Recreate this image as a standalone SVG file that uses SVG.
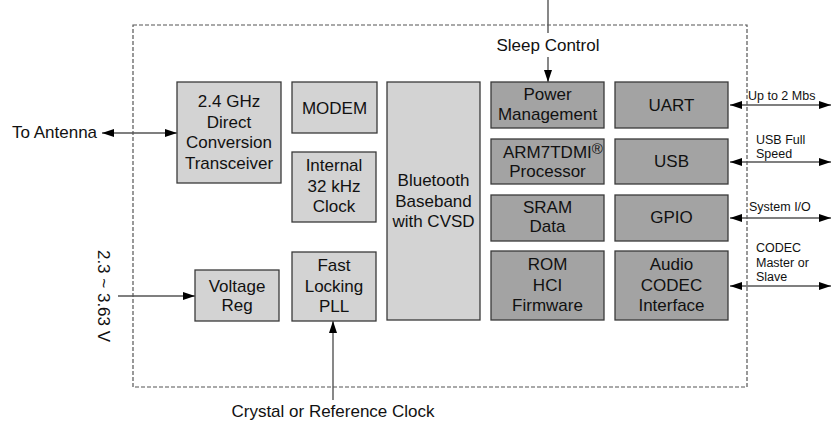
<svg xmlns="http://www.w3.org/2000/svg" width="837" height="422" viewBox="0 0 837 422">
<style>
.t{font-family:"Liberation Sans",Arial,sans-serif;font-size:17px;fill:#111;text-anchor:middle}
.s{font-family:"Liberation Sans",Arial,sans-serif;font-size:12.5px;fill:#111}
.l{fill:#d3d3d3;stroke:#3a3a3a;stroke-width:1.3}
.d{fill:#a3a3a3;stroke:#3a3a3a;stroke-width:1.3}
.c{stroke:#555;stroke-width:1.4;fill:none}
</style>
<defs>
<marker id="ah" viewBox="0 0 12 8" refX="12" refY="4" markerWidth="12" markerHeight="8" markerUnits="userSpaceOnUse" orient="auto-start-reverse">
<path d="M0,0 L12,4 L0,8 Z" fill="#000"/>
</marker>
</defs>
<rect x="133" y="25" width="614" height="362" fill="none" stroke="#555" stroke-width="1.2" stroke-dasharray="4,2"/>
<g id="transceiver"><rect class="l" x="177" y="82" width="104" height="101"/>
<text class="t" x="229" y="107">2.4 GHz</text><text class="t" x="229" y="127.5">Direct</text><text class="t" x="229" y="148">Conversion</text><text class="t" x="229" y="168.5">Transceiver</text></g>
<g id="modem"><rect class="l" x="292" y="82" width="85" height="51"/><text class="t" x="334.5" y="114">MODEM</text></g>
<g id="clock"><rect class="l" x="292" y="152" width="84" height="70"/>
<text class="t" x="334" y="171">Internal</text><text class="t" x="334" y="191.5">32 kHz</text><text class="t" x="334" y="212">Clock</text></g>
<g id="baseband"><rect class="l" x="387" y="82" width="93" height="238"/>
<text class="t" x="433.5" y="186">Bluetooth</text><text class="t" x="433.5" y="206.5">Baseband</text><text class="t" x="433.5" y="227">with CVSD</text></g>
<g id="voltage"><rect class="l" x="195" y="270" width="84" height="51"/>
<text class="t" x="237" y="291.5">Voltage</text><text class="t" x="237" y="311">Reg</text></g>
<g id="pll"><rect class="l" x="292" y="252" width="84" height="69"/>
<text class="t" x="334" y="271">Fast</text><text class="t" x="334" y="291.5">Locking</text><text class="t" x="334" y="311.5">PLL</text></g>
<g id="power"><rect class="d" x="491" y="82" width="113" height="46"/>
<text class="t" x="547.5" y="100">Power</text><text class="t" x="547.5" y="120">Management</text></g>
<g id="uart"><rect class="d" x="615" y="82" width="113" height="46"/><text class="t" x="671.5" y="111">UART</text></g>
<g id="arm"><rect class="d" x="491" y="139" width="113" height="45"/>
<text class="t" x="503" y="158" style="text-anchor:start">ARM7TDMI<tspan dy="-4" font-size="15">®</tspan></text><text class="t" x="547.5" y="176.5">Processor</text></g>
<g id="usb"><rect class="d" x="615" y="139" width="113" height="45"/><text class="t" x="671.5" y="166.5">USB</text></g>
<g id="sram"><rect class="d" x="491" y="195" width="113" height="46"/>
<text class="t" x="547.5" y="213">SRAM</text><text class="t" x="547.5" y="231.5">Data</text></g>
<g id="gpio"><rect class="d" x="615" y="195" width="113" height="46"/><text class="t" x="671.5" y="222.5">GPIO</text></g>
<g id="rom"><rect class="d" x="491" y="251" width="113" height="69"/>
<text class="t" x="547.5" y="270">ROM</text><text class="t" x="547.5" y="291">HCI</text><text class="t" x="547.5" y="311">Firmware</text></g>
<g id="codec"><rect class="d" x="615" y="251" width="113" height="69"/>
<text class="t" x="671.5" y="270">Audio</text><text class="t" x="671.5" y="291">CODEC</text><text class="t" x="671.5" y="311">Interface</text></g>
<g id="connectors">
<line class="c" x1="102" y1="133" x2="177" y2="133" marker-start="url(#ah)" marker-end="url(#ah)"/>
<line class="c" x1="118" y1="296" x2="195" y2="296" marker-end="url(#ah)"/>
<line class="c" x1="333" y1="400" x2="333" y2="321" marker-end="url(#ah)"/>
<line class="c" x1="548" y1="0" x2="548" y2="33"/>
<line class="c" x1="548" y1="57" x2="548" y2="82" marker-end="url(#ah)"/>
<line class="c" x1="730" y1="105" x2="831" y2="105" marker-start="url(#ah)" marker-end="url(#ah)"/>
<line class="c" x1="730" y1="162" x2="831" y2="162" marker-start="url(#ah)" marker-end="url(#ah)"/>
<line class="c" x1="730" y1="218" x2="831" y2="218" marker-start="url(#ah)" marker-end="url(#ah)"/>
<line class="c" x1="730" y1="286" x2="831" y2="286" marker-start="url(#ah)" marker-end="url(#ah)"/>
</g>
<text class="t" x="12" y="137.5" style="text-anchor:start">To Antenna</text>
<text class="t" x="548" y="50.5">Sleep Control</text>
<text class="t" x="333" y="416.5">Crystal or Reference Clock</text>
<text class="t" transform="translate(98,296) rotate(90)">2.3 ~ 3.63 V</text>
<text class="s" x="748" y="100">Up to 2 Mbs</text>
<text class="s" x="756" y="144">USB Full</text>
<text class="s" x="756" y="158">Speed</text>
<text class="s" x="749" y="211">System I/O</text>
<text class="s" x="756" y="251.5">CODEC</text>
<text class="s" x="756" y="266.5">Master or</text>
<text class="s" x="756" y="280.5">Slave</text>
</svg>
